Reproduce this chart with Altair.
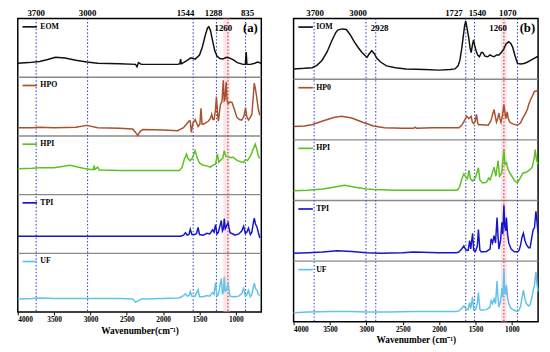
import altair as alt
import pandas as pd

XTICKS = [4000, 3500, 3000, 2500, 2000, 1500, 1000]

A_NAMES = ["EOM", "HPO", "HPI", "TPI", "UF"]
B_NAMES = ["IOM", "HP0", "HPI", "TPI", "UF"]
COLORS = ["#111111", "#a9502c", "#5cc21f", "#1616c8", "#62c3ea"]

A_EOM = [(4000,.24),(3850,.25),(3700,.27),(3600,.30),(3480,.34),(3350,.33),(3200,.29),(3050,.26),(2900,.24),(2600,.23),(2380,.22),(2360,.18),(2340,.25),(2300,.22),(2000,.22),(1800,.22),(1770,.23),(1760,.31),(1750,.23),(1680,.28),(1620,.33),(1560,.31),(1500,.38),(1460,.52),(1420,.72),(1390,.84),(1373,.86),(1350,.80),(1320,.62),(1290,.45),(1260,.36),(1220,.32),(1180,.31),(1130,.34),(1090,.33),(1040,.30),(980,.25),(900,.22),(870,.22),(858,.43),(848,.22),(800,.22),(740,.24),(700,.26),(650,.24)]
A_HPO = [(4000,.14),(3800,.14),(3700,.15),(3500,.14),(3200,.15),(3050,.18),(2900,.14),(2600,.13),(2420,.12),(2380,.06),(2350,.01),(2320,.07),(2280,.11),(2000,.10),(1800,.09),(1787,.10),(1720,.14),(1680,.20),(1640,.26),(1627,.25),(1613,.06),(1590,.22),(1560,.28),(1520,.16),(1495,.20),(1480,.47),(1465,.20),(1453,.20),(1420,.22),(1380,.25),(1350,.30),(1333,.37),(1315,.28),(1300,.28),(1280,.45),(1267,.67),(1250,.35),(1240,.25),(1213,.53),(1190,.60),(1173,.95),(1160,.60),(1150,.62),(1133,.92),(1120,.60),(1107,.55),(1080,.58),(1053,.57),(1020,.45),(987,.32),(950,.28),(920,.27),(890,.33),(867,.48),(850,.33),(827,.27),(800,.32),(780,.37),(765,.60),(747,.90),(730,.80),(707,.60),(690,.45),(670,.35)]
A_HPI = [(4000,.44),(3800,.45),(3700,.46),(3500,.46),(3280,.50),(3100,.45),(3000,.43),(2960,.43),(2950,.50),(2940,.43),(2900,.47),(2880,.42),(2600,.41),(2300,.41),(2000,.41),(1780,.41),(1740,.46),(1710,.60),(1680,.69),(1660,.62),(1630,.58),(1600,.62),(1560,.75),(1530,.62),(1500,.54),(1450,.50),(1400,.49),(1350,.47),(1320,.50),(1280,.52),(1253,.69),(1235,.55),(1215,.58),(1200,.60),(1180,.62),(1160,.75),(1140,.66),(1100,.64),(1060,.63),(1040,.64),(980,.58),(930,.56),(893,.55),(870,.60),(840,.58),(790,.68),(760,.78),(733,.86),(710,.76),(690,.65),(670,.62)]
A_TPI = [(4000,.29),(3500,.29),(3000,.29),(2500,.29),(2000,.29),(1760,.29),(1720,.31),(1693,.35),(1670,.31),(1645,.32),(1627,.41),(1605,.32),(1560,.32),(1540,.34),(1520,.44),(1500,.32),(1450,.31),(1400,.34),(1360,.33),(1320,.40),(1300,.36),(1280,.49),(1260,.33),(1240,.36),(1200,.56),(1185,.38),(1170,.42),(1160,.59),(1145,.42),(1107,.52),(1080,.35),(1040,.33),(1013,.31),(960,.33),(920,.38),(893,.46),(870,.34),(850,.36),(827,.43),(800,.32),(780,.36),(760,.52),(747,.60),(730,.50),(710,.45),(690,.35),(670,.26)]
A_UF = [(4000,.22),(3800,.23),(3700,.24),(3500,.23),(3000,.23),(2600,.23),(2420,.22),(2380,.17),(2340,.19),(2300,.22),(2000,.23),(1780,.24),(1720,.28),(1693,.31),(1670,.27),(1645,.28),(1627,.35),(1605,.27),(1560,.27),(1520,.38),(1500,.26),(1450,.26),(1400,.28),(1360,.27),(1320,.33),(1300,.30),(1280,.50),(1260,.27),(1240,.30),(1200,.57),(1185,.30),(1170,.35),(1160,.60),(1145,.34),(1107,.47),(1080,.27),(1040,.26),(1013,.26),(960,.27),(920,.31),(893,.40),(870,.27),(850,.29),(827,.37),(800,.26),(780,.30),(760,.42),(747,.49),(730,.40),(710,.37),(690,.30),(670,.27)]

B_IOM = [(4000,.17),(3850,.18),(3745,.19),(3680,.23),(3610,.31),(3540,.45),(3476,.63),(3420,.77),(3395,.81),(3330,.83),(3275,.82),(3220,.73),(3167,.62),(3110,.52),(3060,.44),(2992,.36),(2960,.42),(2925,.47),(2890,.42),(2858,.35),(2800,.28),(2723,.22),(2600,.19),(2454,.17),(2200,.16),(2000,.15),(1850,.16),(1782,.17),(1740,.22),(1715,.31),(1690,.50),(1670,.69),(1650,.88),(1634,.96),(1615,.83),(1594,.69),(1575,.52),(1560,.44),(1540,.58),(1527,.65),(1510,.55),(1490,.46),(1470,.40),(1446,.37),(1420,.44),(1400,.44),(1370,.38),(1333,.37),(1300,.40),(1270,.38),(1245,.37),(1210,.40),(1178,.40),(1140,.45),(1110,.50),(1080,.58),(1043,.62),(1015,.59),(990,.53),(960,.40),(923,.26),(880,.25),(834,.26),(790,.28),(744,.31),(700,.34),(655,.37),(640,.37)]
B_HP0 = [(4000,.22),(3850,.23),(3750,.25),(3600,.31),(3450,.37),(3340,.39),(3200,.36),(3050,.29),(2900,.23),(2750,.20),(2500,.19),(2350,.19),(2330,.21),(2310,.19),(2091,.20),(1728,.20),(1690,.24),(1660,.30),(1620,.39),(1590,.35),(1560,.39),(1545,.30),(1527,.27),(1505,.30),(1486,.42),(1470,.28),(1460,.25),(1400,.25),(1325,.24),(1295,.30),(1280,.35),(1260,.44),(1245,.50),(1230,.40),(1212,.29),(1195,.35),(1178,.44),(1165,.35),(1150,.29),(1130,.40),(1110,.58),(1095,.45),(1083,.35),(1065,.46),(1050,.35),(1030,.29),(980,.26),(923,.24),(880,.28),(855,.35),(820,.42),(788,.50),(770,.58),(748,.65),(720,.72),(690,.80),(660,.81),(640,.80)]
B_HPI = [(4000,.16),(3800,.17),(3600,.19),(3450,.22),(3300,.25),(3150,.22),(3000,.19),(2900,.18),(2600,.17),(2300,.17),(2000,.17),(1750,.17),(1720,.22),(1690,.35),(1660,.44),(1630,.38),(1610,.36),(1590,.50),(1570,.36),(1540,.32),(1500,.38),(1460,.54),(1440,.34),(1400,.29),(1350,.30),(1320,.37),(1300,.34),(1270,.45),(1245,.55),(1220,.40),(1190,.66),(1170,.40),(1140,.45),(1110,.84),(1095,.60),(1075,.62),(1050,.50),(1000,.40),(960,.32),(923,.29),(890,.36),(850,.45),(800,.47),(760,.50),(720,.55),(690,.72),(680,.84),(660,.66),(640,.60)]
B_TPI = [(4000,.13),(3800,.14),(3600,.15),(3400,.17),(3200,.16),(3000,.14),(2800,.13),(2500,.14),(2350,.15),(2000,.14),(1760,.14),(1728,.15),(1690,.20),(1660,.25),(1630,.18),(1600,.18),(1580,.34),(1565,.20),(1540,.46),(1525,.18),(1500,.16),(1475,.25),(1460,.52),(1440,.18),(1420,.15),(1350,.16),(1300,.20),(1285,.37),(1265,.30),(1245,.42),(1225,.30),(1204,.72),(1190,.40),(1178,.20),(1155,.35),(1137,.64),(1125,.45),(1110,.92),(1097,.57),(1085,.50),(1075,.72),(1060,.45),(1043,.30),(1010,.20),(970,.16),(923,.15),(900,.18),(880,.27),(860,.40),(842,.46),(820,.34),(800,.27),(770,.22),(750,.22),(725,.40),(707,.52),(690,.55),(670,.82),(655,.65),(640,.46)]
B_UF = [(4000,.15),(3800,.16),(3500,.17),(3200,.17),(3000,.16),(2700,.16),(2350,.17),(2000,.17),(1760,.17),(1728,.18),(1690,.22),(1660,.26),(1630,.21),(1600,.20),(1580,.32),(1565,.22),(1540,.41),(1525,.20),(1500,.20),(1475,.30),(1460,.48),(1440,.21),(1420,.19),(1350,.20),(1300,.24),(1285,.35),(1265,.30),(1245,.38),(1225,.30),(1204,.67),(1190,.38),(1178,.24),(1155,.35),(1137,.55),(1125,.40),(1110,.86),(1097,.50),(1085,.45),(1075,.60),(1060,.40),(1043,.30),(1010,.22),(970,.19),(923,.17),(900,.20),(880,.26),(860,.40),(842,.52),(820,.38),(800,.30),(770,.26),(750,.28),(725,.40),(707,.52),(690,.60),(670,.82),(655,.62),(640,.50)]

# marker lines (positions on the wavenumber axis) and their labels
A_BLUE = [3747, 3040, 1587, 1267, 867]
A_RED = [1110]
A_TOP_LABELS = ["3700", "3000", "1544", "1288", "835"]
A_TOP_POS = [3747, 3040, 1693, 1307, 840]
A_IN_LABELS = ["1260"]
A_IN_POS = [1173]
A_TAG = "(a)"
A_TAG_POS = 800
A_STRIPE = (1173, 1080)

B_BLUE = [3718, 3005, 2871, 1634, 1513, 923]
B_RED = [1110]
B_TOP_LABELS = ["3700", "3000", "1727", "1540", "1070"]
B_TOP_POS = [3704, 3113, 1796, 1473, 1056]
B_IN_LABELS = ["2928", "1260"]
B_IN_POS = [2817, 1190]
B_TAG = "(b)"
B_TAG_POS = 787
B_STRIPE = (1150, 1070)

FONT = "Liberation Serif"


def panel(names, series, blue, red, top_labels, top_pos, in_labels, in_pos,
          tag, tag_pos, stripe, xmin, w, h, title):
    xs = alt.Scale(domain=[4000, xmin], nice=False, zero=False)
    ys = alt.Scale(domain=[0, 5], nice=False, zero=False)
    xax = alt.Axis(values=XTICKS, title=title, grid=False, format="d")
    X = lambda f="wn": alt.X(f"{f}:Q", scale=xs, axis=xax)
    Y = lambda f="y": alt.Y(f"{f}:Q", scale=ys, axis=None)

    rows = []
    for i, (nm, pts) in enumerate(zip(names, series)):
        off = 4 - i
        for wn, v in pts:
            rows.append({"name": nm, "wn": wn, "y": off + v, "c": COLORS[i]})
    df = pd.DataFrame(rows)

    unit_px = h / 5.0
    stripe_df = pd.DataFrame([{"wn": stripe[0], "wn2": stripe[1], "y": 0, "y2": 5}])
    sep_df = pd.DataFrame({"y": [1, 2, 3, 4]})
    blue_df = pd.DataFrame({"wn": blue})
    red_df = pd.DataFrame({"wn": red})
    leg_df = pd.DataFrame([{"wn": 3935, "wn2": 3735, "wt": 3690, "y": 4 - i + 0.86,
                            "c": COLORS[i], "name": nm} for i, nm in enumerate(names)])
    top_df = pd.DataFrame({"wn": top_pos, "label": top_labels, "y": 5 + 2.5 / unit_px})
    in_df = pd.DataFrame({"wn": in_pos, "label": in_labels, "y": [5 - 10 / unit_px] * len(in_pos)})
    tag_df = pd.DataFrame({"wn": [tag_pos], "label": [tag], "y": [5 - 10 / unit_px]})

    stripe_l = alt.Chart(stripe_df).mark_rect(color="#f6c3d2", opacity=0.45).encode(
        x=X(), x2="wn2", y=Y(), y2="y2")
    seps = alt.Chart(sep_df).mark_rule(color="#8a8a8a", strokeWidth=1.4).encode(y=Y())
    blues = alt.Chart(blue_df).mark_rule(color="#3347c4", strokeWidth=1.1,
                                         strokeDash=[1.5, 2]).encode(x=X())
    reds = alt.Chart(red_df).mark_rule(color="#d0402a", strokeWidth=1.2,
                                       strokeDash=[1.5, 2]).encode(x=X())
    lines = alt.Chart(df).mark_line(strokeWidth=1.5).encode(
        x=X(), y=Y(), color=alt.Color("c:N", scale=None), detail="name:N")
    leg_lines = alt.Chart(leg_df).mark_rule(strokeWidth=1.7).encode(
        x=X(), x2="wn2", y=Y(), color=alt.Color("c:N", scale=None))
    leg_text = alt.Chart(leg_df).mark_text(align="left", baseline="middle", font=FONT,
                                           fontWeight="bold", fontSize=8, color="black").encode(
        x=X("wt"), y=Y(), text="name:N")
    top_text = alt.Chart(top_df).mark_text(align="center", baseline="alphabetic", font=FONT,
                                           fontWeight="bold", fontSize=9, color="black").encode(
        x=X(), y=Y(), text="label:N")
    in_text = alt.Chart(in_df).mark_text(align="center", baseline="middle", font=FONT,
                                         fontWeight="bold", fontSize=9, color="black").encode(
        x=X(), y=Y(), text="label:N")
    tag_text = alt.Chart(tag_df).mark_text(align="center", baseline="middle", font=FONT,
                                           fontWeight="bold", fontSize=13, color="black").encode(
        x=X(), y=Y(), text="label:N")
    return alt.layer(stripe_l, seps, blues, reds, lines, leg_lines, leg_text,
                     top_text, in_text, tag_text).properties(width=w, height=h)


pa = panel(A_NAMES, [A_EOM, A_HPO, A_HPI, A_TPI, A_UF], A_BLUE, A_RED, A_TOP_LABELS,
           A_TOP_POS, A_IN_LABELS, A_IN_POS, A_TAG, A_TAG_POS, A_STRIPE, 650, 249, 300,
           "Wavenumber(cm\u207b\u00b9)")
pb = panel(B_NAMES, [B_IOM, B_HP0, B_HPI, B_TPI, B_UF], B_BLUE, B_RED, B_TOP_LABELS,
           B_TOP_POS, B_IN_LABELS, B_IN_POS, B_TAG, B_TAG_POS, B_STRIPE, 640, 250, 310,
           "Wavenumber (cm\u207b\u00b9)")

chart = alt.hconcat(pa, pb, spacing=25).properties(
    padding={"left": 6, "top": -4, "right": 0, "bottom": 0}
).configure_view(stroke="black", strokeWidth=1.5).configure_axis(
    labelFont=FONT, labelFontWeight="bold", labelFontSize=7.5, labelColor="black",
    titleFont=FONT, titleFontWeight="bold", titleFontSize=9.5, titleColor="black",
    tickColor="black", tickSize=3, domain=False, labelPadding=1, titlePadding=2,
)

chart.save("out.html", embed_options={"renderer": "svg", "actions": False})
